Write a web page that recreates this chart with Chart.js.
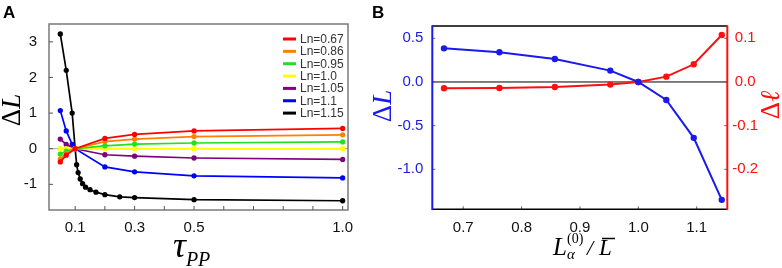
<!DOCTYPE html>
<html>
<head>
<meta charset="utf-8">
<script src="https://cdn.jsdelivr.net/npm/chart.js@4.4.1/dist/chart.umd.min.js"></script>
<style>
  body { margin: 0; background: #fff; }
  #wrap { position: relative; width: 782px; height: 268px; }
  canvas { position: absolute; top: 0; }
</style>
</head>
<body>
<div id="wrap">
  <canvas id="panelA" width="390" height="268" style="left:0"></canvas>
  <canvas id="panelB" width="412" height="268" style="left:370px"></canvas>
</div>
<script>
// ---- panel A data ----
const tauColored = [0.05, 0.07, 0.1, 0.2, 0.3, 0.5, 1.0];
const tauBlue = [0.05, 0.07, 0.09, 0.1, 0.2, 0.3, 0.5, 1.0];
const tauBlack = [0.05, 0.07, 0.09, 0.1, 0.105, 0.11, 0.117, 0.125, 0.135, 0.15, 0.17, 0.2, 0.25, 0.3, 0.5, 1.0];
const dL067 = [-0.37, -0.18, 0, 0.29, 0.40, 0.50, 0.57];
const dL086 = [-0.29, -0.13, 0, 0.20, 0.27, 0.34, 0.39];
const dL095 = [-0.15, -0.07, 0, 0.08, 0.13, 0.16, 0.19];
const dL100 = [0, 0, 0, 0, 0, 0, 0];
const dL105 = [0.27, 0.12, 0, -0.17, -0.21, -0.26, -0.30];
const dL110 = [1.07, 0.50, 0.12, 0, -0.51, -0.65, -0.76, -0.82];
const dL115 = [3.22, 2.2, 1.0, 0, -0.45, -0.67, -0.85, -0.98, -1.08, -1.15, -1.22, -1.29, -1.35, -1.37, -1.43, -1.46];
const lnLabels = ["Ln=0.67", "Ln=0.86", "Ln=0.95", "Ln=1.0", "Ln=1.05", "Ln=1.1", "Ln=1.15"];
const tauTicks = [0.1, 0.2, 0.3, 0.4, 0.5, 0.6, 0.7, 0.8, 0.9, 1.0];
const tauTickLabels = ["0.1", "", "0.3", "", "0.5", "", "", "", "", "1.0"];
const dLTicksA = [-1, 0, 1, 2, 3];

// ---- panel B data ----
const lnRatio = [0.667, 0.762, 0.857, 0.952, 1.0, 1.048, 1.095, 1.143];
const dLB = [0.385, 0.34, 0.263, 0.13, 0, -0.206, -0.64, -1.35];
const dEll = [-0.0145, -0.0137, -0.0114, -0.006, 0, 0.0122, 0.0405, 0.1076];
const ratioTicks = [0.7, 0.8, 0.9, 1.0, 1.1];
const dLTicksB = [-1.0, -0.5, 0.0, 0.5];
const dEllTicks = [-0.2, -0.1, 0.0, 0.1];

const SANS = "'Liberation Sans', Arial, sans-serif";
const SERIF = "'Liberation Serif', 'Times New Roman', serif";

function pts(xs, ys) { return xs.map((x, i) => ({ x: x, y: ys[i] })); }

// draws a row of text runs [{t, font, dy}] starting at x, baseline y
function drawRuns(ctx, runs, x, y, color) {
    ctx.fillStyle = color;
    ctx.textBaseline = "alphabetic";
    ctx.textAlign = "left";
    runs.forEach(r => {
        ctx.font = r.font;
        ctx.fillText(r.t, x, y + (r.dy || 0));
        x += ctx.measureText(r.t).width;
    });
}
function runsWidth(ctx, runs) {
    let w = 0;
    runs.forEach(r => { ctx.font = r.font; w += ctx.measureText(r.t).width; });
    return w;
}
// rotated (reading bottom-to-top) label centred at cx, cy
function drawVertical(ctx, runs, cx, cy, color) {
    ctx.save();
    ctx.translate(cx, cy);
    ctx.rotate(-Math.PI / 2);
    const w = runsWidth(ctx, runs);
    drawRuns(ctx, runs, -w / 2, 9, color);
    ctx.restore();
}

function inwardTicks(ctx, scale, values, side, area, color, len) {
    ctx.save();
    ctx.strokeStyle = color;
    ctx.lineWidth = 1;
    ctx.beginPath();
    values.forEach(v => {
        const p = scale.getPixelForValue(v);
        if (side === "bottom") { ctx.moveTo(p, area.bottom); ctx.lineTo(p, area.bottom - len); }
        if (side === "left") { ctx.moveTo(area.left, p); ctx.lineTo(area.left + len, p); }
        if (side === "right") { ctx.moveTo(area.right, p); ctx.lineTo(area.right - len, p); }
    });
    ctx.stroke();
    ctx.restore();
}

function fixedTicks(values) {
    return s => { s.ticks = values.map(v => ({ value: v })); };
}

// ---------------- panel A ----------------
const colorsA = ["#ff0000", "#ff8000", "#22e022", "#ffff00", "#800080", "#0000ff", "#000000"];
const seriesA = [
    pts(tauColored, dL067), pts(tauColored, dL086), pts(tauColored, dL095),
    pts(tauColored, dL100), pts(tauColored, dL105), pts(tauBlue, dL110), pts(tauBlack, dL115)
];

const decorA = {
    id: "decorA",
    beforeDatasetsDraw(chart) {
        const { ctx, chartArea: a, scales } = chart;
        const y0 = scales.y.getPixelForValue(0);
        ctx.save();
        ctx.strokeStyle = "#a0a0a0";
        ctx.lineWidth = 1;
        ctx.beginPath();
        ctx.moveTo(a.left, y0); ctx.lineTo(a.right, y0);
        ctx.stroke();
        ctx.restore();
    },
    afterDraw(chart) {
        const { ctx, chartArea: a, scales } = chart;
        ctx.save();
        ctx.strokeStyle = "#7a7a7a";
        ctx.lineWidth = 1.5;
        ctx.strokeRect(a.left, a.top, a.right - a.left, a.bottom - a.top);
        ctx.restore();
        inwardTicks(ctx, scales.x, tauTicks, "bottom", a, "#555", 4);
        inwardTicks(ctx, scales.y, dLTicksA, "left", a, "#555", 4);

        // legend
        chart.data.datasets.forEach((ds, i) => {
            const y = 39 + i * 12.35;
            ctx.save();
            ctx.strokeStyle = ds.borderColor;
            ctx.lineWidth = 3;
            ctx.beginPath();
            ctx.moveTo(283, y); ctx.lineTo(296, y);
            ctx.stroke();
            ctx.fillStyle = "#333";
            ctx.font = "12px " + SANS;
            ctx.textBaseline = "middle";
            ctx.fillText(ds.label, 300, y + 0.5);
            ctx.restore();
        });

        // titles
        ctx.save();
        ctx.fillStyle = "#000";
        ctx.font = "bold 17px " + SANS;
        ctx.fillText("A", 3, 18);
        ctx.restore();
        drawVertical(ctx, [{ t: "Δ", font: "27px " + SERIF }, { t: "L", font: "italic 27px " + SERIF }], 11, 110, "#000");
        drawRuns(ctx, [{ t: "τ", font: "italic 36px " + SERIF }, { t: "PP", font: "italic 20px " + SERIF, dy: 9 }], 173, 257, "#000");
    }
};

new Chart(document.getElementById("panelA"), {
    type: "line",
    data: {
        datasets: seriesA.map((d, i) => ({
            label: lnLabels[i],
            data: d,
            borderColor: colorsA[i],
            backgroundColor: colorsA[i],
            borderWidth: 1.7,
            pointRadius: 1.8,
            pointHoverRadius: 1.8,
            tension: 0
        }))
    },
    options: {
        responsive: false,
        animation: false,
        devicePixelRatio: 1,
        layout: { padding: { top: 24, right: 42, left: 0, bottom: 0 } },
        plugins: { legend: { display: false }, tooltip: { enabled: false } },
        scales: {
            x: {
                type: "linear", min: 0.012, max: 1.018,
                afterBuildTicks: fixedTicks(tauTicks),
                afterFit: s => { s.height = 58; },
                grid: { display: false, drawTicks: false },
                border: { display: false },
                ticks: {
                    autoSkip: false, maxRotation: 0, padding: 9,
                    color: "#111", font: { family: SANS, size: 15 },
                    callback: (v, i) => tauTickLabels[i]
                }
            },
            y: {
                type: "linear", min: -1.72, max: 3.5,
                afterBuildTicks: fixedTicks(dLTicksA),
                afterFit: s => { s.width = 49; },
                grid: { display: false, drawTicks: false },
                border: { display: false },
                ticks: {
                    padding: 12, color: "#111", font: { family: SANS, size: 15 },
                    callback: v => String(v)
                }
            }
        }
    },
    plugins: [decorA]
});

// ---------------- panel B ----------------
const blueB = "#1a1aee";
const redB = "#ff1010";

const decorB = {
    id: "decorB",
    beforeDatasetsDraw(chart) {
        const { ctx, chartArea: a, scales } = chart;
        const y0 = scales.y.getPixelForValue(0);
        ctx.save();
        ctx.strokeStyle = "#000";
        ctx.lineWidth = 1;
        ctx.beginPath();
        ctx.moveTo(a.left, y0); ctx.lineTo(a.right, y0);
        ctx.stroke();
        ctx.restore();
    },
    afterDraw(chart) {
        const { ctx, chartArea: a, scales } = chart;
        inwardTicks(ctx, scales.x, ratioTicks, "bottom", a, "#666", 3);
        inwardTicks(ctx, scales.y, dLTicksB, "left", a, "#666", 3);
        inwardTicks(ctx, scales.y2, dEllTicks, "right", a, "#666", 3);
        ctx.save();
        ctx.lineWidth = 1.5;
        ctx.strokeStyle = "#000";
        ctx.beginPath();
        ctx.moveTo(a.left, a.top); ctx.lineTo(a.right, a.top);
        ctx.moveTo(a.left, a.bottom); ctx.lineTo(a.right, a.bottom);
        ctx.stroke();
        ctx.lineWidth = 2;
        ctx.strokeStyle = blueB;
        ctx.beginPath(); ctx.moveTo(a.left, a.top - 0.75); ctx.lineTo(a.left, a.bottom + 0.75); ctx.stroke();
        ctx.strokeStyle = redB;
        ctx.beginPath(); ctx.moveTo(a.right, a.top - 0.75); ctx.lineTo(a.right, a.bottom + 0.75); ctx.stroke();

        ctx.fillStyle = "#000";
        ctx.font = "bold 17px " + SANS;
        ctx.fillText("B", 2, 18);
        ctx.restore();

        drawVertical(ctx, [{ t: "Δ", font: "27px " + SERIF }, { t: "L", font: "italic 27px " + SERIF }], 12, 106, blueB);
        drawVertical(ctx, [{ t: "Δ", font: "27px " + SERIF }, { t: "ℓ", font: "italic 27px " + SERIF }], 400, 105, redB);

        // x title: L_alpha^(0) / L-bar
        const base = 255;
        drawRuns(ctx, [{ t: "L", font: "italic 25px " + SERIF }], 183, base, "#000");
        drawRuns(ctx, [{ t: "(0)", font: "14px " + SERIF }], 197, base - 12, "#000");
        drawRuns(ctx, [{ t: "α", font: "italic 15px " + SERIF }], 197, base + 4, "#000");
        drawRuns(ctx, [{ t: "/", font: "italic 22px " + SERIF }], 217, base, "#000");
        drawRuns(ctx, [{ t: "L", font: "italic 23px " + SERIF }], 229, base, "#000");
        ctx.save();
        ctx.strokeStyle = "#000";
        ctx.lineWidth = 1.5;
        ctx.beginPath(); ctx.moveTo(232, 238.5); ctx.lineTo(245, 238.5); ctx.stroke();
        ctx.restore();
    }
};

new Chart(document.getElementById("panelB"), {
    type: "line",
    data: {
        datasets: [
            {
                label: "ΔL", data: pts(lnRatio, dLB), yAxisID: "y",
                borderColor: blueB, backgroundColor: blueB,
                borderWidth: 2, pointRadius: 2.2, pointHoverRadius: 2.2, tension: 0
            },
            {
                label: "Δℓ", data: pts(lnRatio, dEll), yAxisID: "y2",
                borderColor: redB, backgroundColor: redB,
                borderWidth: 2, pointRadius: 2.2, pointHoverRadius: 2.2, tension: 0
            }
        ]
    },
    options: {
        responsive: false,
        animation: false,
        devicePixelRatio: 1,
        layout: { padding: { top: 26, right: 14.7, left: 0, bottom: 0 } },
        plugins: { legend: { display: false }, tooltip: { enabled: false } },
        scales: {
            x: {
                type: "linear", min: 0.647, max: 1.1525,
                afterBuildTicks: fixedTicks(ratioTicks),
                afterFit: s => { s.height = 58.7; },
                grid: { display: false, drawTicks: false },
                border: { display: false },
                ticks: {
                    autoSkip: false, maxRotation: 0, padding: 10,
                    color: "#111", font: { family: SANS, size: 15 },
                    callback: v => v.toFixed(1)
                }
            },
            y: {
                type: "linear", position: "left", min: -1.458, max: 0.641,
                afterBuildTicks: fixedTicks(dLTicksB),
                afterFit: s => { s.width = 62.3; },
                grid: { display: false, drawTicks: false },
                border: { display: false },
                ticks: {
                    padding: 9, color: blueB, font: { family: SANS, size: 15 },
                    callback: v => v.toFixed(1)
                }
            },
            y2: {
                type: "linear", position: "right", min: -0.2916, max: 0.1282,
                afterBuildTicks: fixedTicks(dEllTicks),
                afterFit: s => { s.width = 40; },
                grid: { display: false, drawTicks: false },
                border: { display: false },
                ticks: {
                    padding: 5, crossAlign: "center", color: redB, font: { family: SANS, size: 15 },
                    callback: v => v.toFixed(1)
                }
            }
        }
    },
    plugins: [decorB]
});
</script>
</body>
</html>
